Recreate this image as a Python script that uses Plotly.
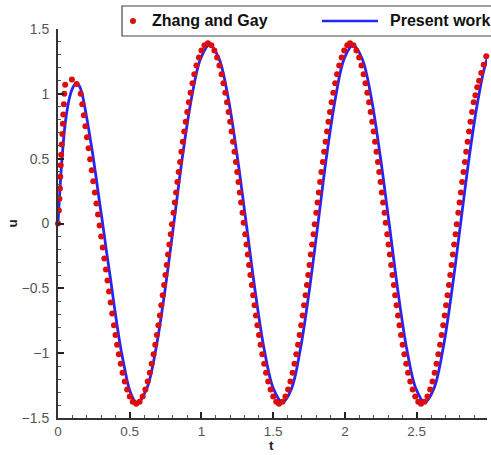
import plotly.graph_objects as go

# ---------------- data ----------------
present_t = [
    0.000, 0.010, 0.020, 0.030, 0.045, 0.060, 0.080, 0.100, 0.118, 0.132, 0.148, 0.168, 0.190, 0.215,
    0.240, 0.265, 0.290, 0.315, 0.340, 0.365, 0.390, 0.415, 0.440, 0.465, 0.490, 0.515, 0.535,
    0.555, 0.618, 0.681, 0.744, 0.807, 0.869, 0.932, 0.995,
    1.058, 1.121, 1.185, 1.248, 1.312, 1.375, 1.438, 1.502,
    1.565, 1.627, 1.688, 1.750, 1.812, 1.873, 1.935, 1.996,
    2.058, 2.120, 2.183, 2.245, 2.308, 2.370, 2.432, 2.495,
    2.557, 2.619, 2.682, 2.744, 2.806, 2.868, 2.931, 2.993, 3.055,
]
present_u = [
    0.000, 0.200, 0.380, 0.530, 0.720, 0.850, 0.970, 1.040, 1.074, 1.080, 1.062, 1.000, 0.880, 0.720,
    0.550, 0.360, 0.160, -0.030, -0.230, -0.420, -0.620, -0.810, -0.980, -1.120, -1.250, -1.330, -1.370,
    -1.380, -1.275, -0.976, -0.528, 0.000, 0.528, 0.976, 1.275,
    1.380, 1.275, 0.976, 0.528, 0.000, -0.528, -0.976, -1.275,
    -1.380, -1.275, -0.976, -0.528, 0.000, 0.528, 0.976, 1.275,
    1.375, 1.270, 0.972, 0.526, 0.000, -0.528, -0.976, -1.275,
    -1.380, -1.275, -0.976, -0.528, 0.000, 0.528, 0.976, 1.275, 1.380,
]

zhang_t = [
    0.000, 0.006, 0.010, 0.013, 0.016, 0.019, 0.022, 0.026, 0.030, 0.034, 0.037, 0.041, 0.044, 0.050,
    0.097, 0.130, 0.158, 0.169, 0.180, 0.191, 0.202, 0.213, 0.224, 0.235, 0.246, 0.257, 0.268, 0.279,
    0.290, 0.301, 0.312, 0.323, 0.334, 0.345, 0.356, 0.367, 0.378, 0.390, 0.401, 0.412, 0.424, 0.437,
    0.450, 0.465, 0.482, 0.500, 0.521,
    0.545, 0.569, 0.590, 0.609, 0.625, 0.640, 0.653, 0.666, 0.678, 0.689, 0.700, 0.710, 0.720, 0.730,
    0.740, 0.749, 0.758, 0.767, 0.776, 0.786, 0.794, 0.805, 0.814, 0.823, 0.832, 0.841, 0.851, 0.860,
    0.870, 0.880, 0.890, 0.901, 0.912, 0.924, 0.937, 0.950, 0.965, 0.982, 1.000, 1.021,
    1.045, 1.069, 1.090, 1.109, 1.125, 1.140, 1.153, 1.166, 1.178, 1.189, 1.200, 1.210, 1.220, 1.230,
    1.240, 1.249, 1.258, 1.267, 1.276, 1.286, 1.294, 1.305, 1.314, 1.323, 1.332, 1.341, 1.351, 1.360,
    1.370, 1.380, 1.390, 1.401, 1.412, 1.424, 1.437, 1.450, 1.465, 1.482, 1.500, 1.521,
    1.540, 1.564, 1.585, 1.604, 1.620, 1.635, 1.648, 1.661, 1.673, 1.684, 1.695, 1.705, 1.715, 1.725,
    1.735, 1.744, 1.753, 1.762, 1.771, 1.781, 1.789, 1.800, 1.809, 1.818, 1.827, 1.836, 1.846, 1.855,
    1.865, 1.875, 1.885, 1.896, 1.907, 1.919, 1.932, 1.945, 1.960, 1.977, 1.995, 2.016,
    2.035, 2.059, 2.080, 2.099, 2.115, 2.130, 2.143, 2.156, 2.168, 2.179, 2.190, 2.200, 2.210, 2.220,
    2.230, 2.239, 2.248, 2.257, 2.266, 2.276, 2.284, 2.295, 2.304, 2.313, 2.322, 2.331, 2.341, 2.350,
    2.360, 2.370, 2.380, 2.391, 2.402, 2.414, 2.427, 2.440, 2.455, 2.472, 2.490, 2.511,
    2.530, 2.554, 2.575, 2.594, 2.610, 2.625, 2.638, 2.651, 2.663, 2.674, 2.685, 2.695, 2.705, 2.715,
    2.725, 2.734, 2.743, 2.752, 2.761, 2.771, 2.779, 2.790, 2.799, 2.808, 2.817, 2.826, 2.836, 2.845,
    2.855, 2.865, 2.875, 2.886, 2.897, 2.909, 2.922, 2.935, 2.950, 2.967, 2.985,
]
zhang_u = [
    0.000, 0.100, 0.190, 0.270, 0.360, 0.450, 0.530, 0.610, 0.690, 0.770, 0.840, 0.920, 1.000, 1.070,
    1.110, 1.075, 1.000, 0.920, 0.835, 0.750, 0.665, 0.580, 0.495, 0.410, 0.325, 0.240, 0.155, 0.070,
    -0.015, -0.100, -0.185, -0.270, -0.355, -0.440, -0.525, -0.610, -0.695, -0.785, -0.860, -0.935, -1.009, -1.081,
    -1.151, -1.218, -1.281, -1.335, -1.375,
    -1.390, -1.375, -1.335, -1.281, -1.219, -1.151, -1.081, -1.009, -0.935, -0.859, -0.784, -0.709, -0.631, -0.553,
    -0.475, -0.398, -0.320, -0.240, -0.161, -0.083, -0.006, 0.083, 0.161, 0.240, 0.320, 0.398, 0.475, 0.553,
    0.631, 0.709, 0.784, 0.859, 0.935, 1.009, 1.081, 1.151, 1.219, 1.281, 1.335, 1.375,
    1.390, 1.375, 1.335, 1.281, 1.219, 1.151, 1.081, 1.009, 0.935, 0.859, 0.784, 0.709, 0.631, 0.553,
    0.475, 0.398, 0.320, 0.240, 0.161, 0.083, 0.006, -0.083, -0.161, -0.240, -0.320, -0.398, -0.475, -0.553,
    -0.631, -0.709, -0.784, -0.859, -0.935, -1.009, -1.081, -1.151, -1.219, -1.281, -1.335, -1.375,
    -1.390, -1.375, -1.335, -1.281, -1.219, -1.151, -1.081, -1.009, -0.935, -0.859, -0.784, -0.709, -0.631, -0.553,
    -0.475, -0.398, -0.320, -0.240, -0.161, -0.083, -0.006, 0.083, 0.161, 0.240, 0.320, 0.398, 0.475, 0.553,
    0.631, 0.709, 0.784, 0.859, 0.935, 1.009, 1.081, 1.151, 1.219, 1.281, 1.335, 1.375,
    1.390, 1.375, 1.335, 1.281, 1.219, 1.151, 1.081, 1.009, 0.935, 0.859, 0.784, 0.709, 0.631, 0.553,
    0.475, 0.398, 0.320, 0.240, 0.161, 0.083, 0.006, -0.083, -0.161, -0.240, -0.320, -0.398, -0.475, -0.553,
    -0.631, -0.709, -0.784, -0.859, -0.935, -1.009, -1.081, -1.151, -1.219, -1.281, -1.335, -1.375,
    -1.390, -1.375, -1.335, -1.281, -1.219, -1.151, -1.081, -1.009, -0.935, -0.859, -0.784, -0.709, -0.631, -0.553,
    -0.475, -0.398, -0.320, -0.240, -0.161, -0.083, -0.006, 0.083, 0.161, 0.240, 0.320, 0.398, 0.475, 0.553,
    0.631, 0.709, 0.784, 0.859, 0.935, 0.990, 1.050, 1.100, 1.160, 1.225, 1.290,
]

x_ticks = [0, 0.5, 1, 1.5, 2, 2.5]
x_labels = ["0", "0.5", "1", "1.5", "2", "2.5"]
y_ticks = [-1.5, -1, -0.5, 0, 0.5, 1, 1.5]
y_labels = ["\u22121.5", "\u22121", "\u22120.5", "0", "0.5", "1", "1.5"]

series_names = ["Zhang and Gay", "Present work"]
RED = "#dc0c0c"
BLUE = "#2424ff"

assert len(present_t) == len(present_u)
assert len(zhang_t) == len(zhang_u)

# ---------------- figure ----------------
fig = go.Figure()
fig.add_trace(go.Scatter(
    x=present_t, y=present_u, mode="lines", name=series_names[1],
    line=dict(color=BLUE, width=2.8, shape="spline", smoothing=1.0),
    showlegend=False,
))
fig.add_trace(go.Scatter(
    x=zhang_t, y=zhang_u, mode="markers", name=series_names[0],
    marker=dict(color=RED, size=6, line=dict(width=0)),
    cliponaxis=False, showlegend=False,
))

axis_common = dict(
    showgrid=False, zeroline=False, showline=True, linecolor="#333333", linewidth=2,
    ticks="inside", ticklen=6, tickwidth=2, tickcolor="#222222",
    minor=dict(ticks="inside", ticklen=3, tickwidth=1, tickcolor="#555555", dtick=0.1),
    mirror=False, automargin=False,
)

fig.update_xaxes(
    range=[0, 2.99], tickmode="array", tickvals=x_ticks, ticktext=x_labels,
    tickfont=dict(family="Liberation Sans, Arial, sans-serif", size=13.5, color="#555555"),
    ticklabelstandoff=0,
    **axis_common,
)
fig.update_yaxes(
    range=[-1.5, 1.5], tickmode="array", tickvals=y_ticks, ticktext=y_labels,
    tickfont=dict(family="Liberation Sans, Arial, sans-serif", size=14, color="#555555"),
    ticklabelstandoff=4,
    **axis_common,
)

# legend box drawn in paper coordinates (box runs off the right edge like the reference)
legend_font = dict(family="Liberation Sans, Arial, sans-serif", size=16, color="#111111")
title_font = dict(family="Liberation Sans, Arial, sans-serif", size=13.5, color="#222222")
shapes = [
    dict(type="rect", xref="paper", yref="paper", x0=0.1492, x1=1.05, y0=0.982, y1=1.0591,
         line=dict(color="#444444", width=1.2), fillcolor="white", layer="above"),
    dict(type="circle", xref="paper", yref="paper", xsizemode="pixel", ysizemode="pixel",
         xanchor=0.1748, yanchor=1.0206, x0=-3, x1=3, y0=-3, y1=3,
         fillcolor=RED, line=dict(width=0), layer="above"),
    dict(type="line", xref="paper", yref="paper", x0=0.6154, x1=0.7459, y0=1.0206, y1=1.0206,
         line=dict(color=BLUE, width=2.6), layer="above"),
]
annotations = [
    dict(text="<b>" + series_names[0] + "</b>", xref="paper", yref="paper", x=0.2145, y=1.0206,
         xanchor="left", yanchor="middle", showarrow=False, font=legend_font),
    dict(text="<b>" + series_names[1] + "</b>", xref="paper", yref="paper", x=0.7692, y=1.0206,
         xanchor="left", yanchor="middle", showarrow=False, font=legend_font),
    # axis titles
    dict(text="<b>t</b>", xref="paper", yref="paper", x=0.497, y=-0.0925,
         xanchor="center", yanchor="bottom", showarrow=False, font=title_font, borderpad=0),
    dict(text="<b>u</b>", xref="paper", yref="paper", x=-0.105, y=0.5,
         xanchor="center", yanchor="middle", showarrow=False, font=title_font, textangle=-90),
]

fig.update_layout(
    width=491, height=455,
    margin=dict(l=58, r=4, t=29, b=37),
    paper_bgcolor="white", plot_bgcolor="white",
    shapes=shapes, annotations=annotations,
    showlegend=False,
)

fig.write_html("out.html")
